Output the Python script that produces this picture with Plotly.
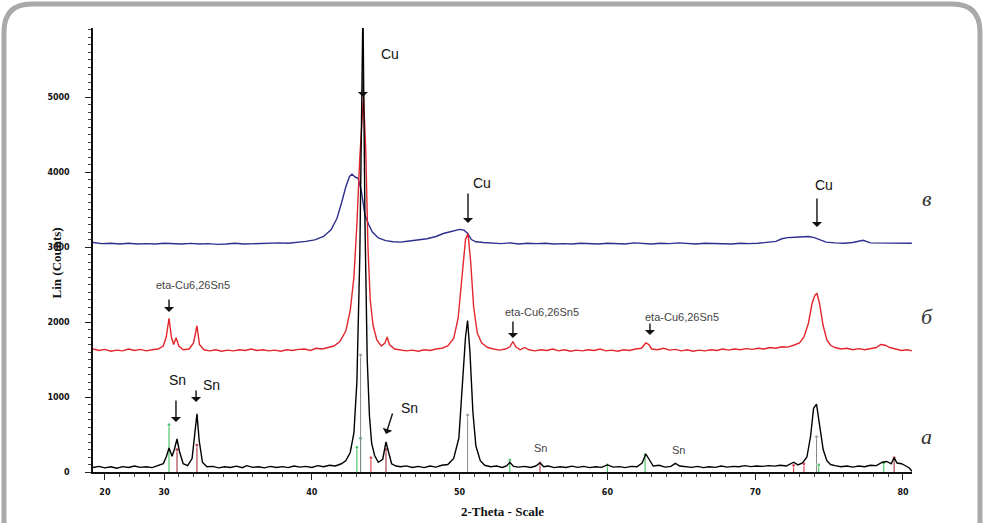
import plotly.graph_objects as go

# --- data -----------------------------------------------------------------
# curve а (black)
a_x = [25.2, 25.6, 26.0, 26.4, 26.8, 27.2, 27.6, 28.0, 28.4, 28.8, 29.2, 29.6, 29.95, 30.15, 30.34,
       30.55, 30.7, 30.88, 31.05, 31.3, 31.6, 31.9, 32.08, 32.23, 32.38, 32.6, 32.9, 33.3, 33.7,
       34.1, 34.5, 34.9, 35.3, 35.6, 36.0, 36.4, 36.8, 37.2, 37.6, 38.0, 38.4, 38.8, 39.2, 39.6,
       40.0, 40.4, 40.8, 41.2, 41.6, 42.0, 42.3, 42.6, 42.85, 43.05, 43.25, 43.46, 43.6, 43.75,
       43.9, 44.05, 44.25, 44.5, 44.8, 45.02, 45.2, 45.4, 45.7, 46.0, 46.4, 46.8, 47.2, 47.6,
       48.0, 48.4, 48.8, 49.2, 49.6, 49.95, 50.2, 50.4, 50.54, 50.7, 50.9, 51.1, 51.4, 51.7,
       52.1, 52.5, 52.9, 53.2, 53.4, 53.65, 54.0, 54.4, 54.8, 55.15, 55.44, 55.7, 56.0, 56.4,
       56.8, 57.2, 57.6, 58.0, 58.4, 58.8, 59.2, 59.6, 60.0, 60.4, 60.8, 61.2, 61.6, 62.0, 62.35,
       62.6, 62.85, 63.1, 63.5, 63.9, 64.3, 64.6, 64.9, 65.3, 65.7, 66.1, 66.5, 66.9, 67.3, 67.7,
       68.1, 68.5, 68.9, 69.3, 69.7, 70.1, 70.5, 70.9, 71.3, 71.7, 72.1, 72.6, 72.9, 73.2, 73.5,
       73.75, 73.95, 74.15, 74.35, 74.6, 74.85, 75.1, 75.4, 75.8, 76.2, 76.6, 77.0, 77.4, 77.8,
       78.2, 78.6, 78.9, 79.2, 79.4, 79.6, 79.9, 80.2, 80.45, 80.6]
a_y = [60, 75, 55, 70, 50, 72, 60, 80, 62, 70, 58, 85, 110, 200, 320,
       210, 300, 440, 270, 110, 85, 180, 520, 775, 420, 130, 70, 75, 55,
       70, 60, 78, 58, 85, 62, 70, 55, 75, 60, 72, 58, 80, 65, 75,
       60, 85, 70, 90, 80, 110, 150, 260, 520, 1200, 2900, 6200, 3300, 1500,
       750, 380, 220, 130, 170, 400, 260, 110, 80, 70, 82, 60, 75, 58,
       80, 65, 90, 100, 180, 450, 1200, 1800, 2020, 1600, 800, 350, 150, 90,
       70, 80, 60, 85, 130, 75, 65, 75, 60, 80, 120, 70, 80, 58,
       70, 60, 78, 62, 75, 58, 70, 62, 95, 65, 72, 58, 75, 70, 120,
       240, 160, 80, 90, 65, 75, 115, 80, 70, 62, 75, 58, 70, 62, 80,
       65, 75, 70, 85, 72, 80, 75, 85, 78, 90, 80, 130, 95, 120, 200,
       480, 850, 905, 620, 300, 150, 100, 85, 70, 80, 65, 80, 70, 90,
       85, 130, 140, 110, 190, 120, 110, 80, 50, 10]

# curve б (red)
b_x = [25.2, 25.6, 26.0, 26.4, 26.8, 27.2, 27.6, 28.0, 28.4, 28.8, 29.2, 29.6, 29.95, 30.15, 30.34,
       30.5, 30.65, 30.82, 31.0, 31.3, 31.7, 32.0, 32.23, 32.4, 32.7, 33.1, 33.5, 33.9, 34.3,
       34.7, 35.1, 35.5, 35.9, 36.3, 36.7, 37.1, 37.5, 37.9, 38.3, 38.7, 39.1, 39.5, 39.9, 40.3,
       40.7, 41.1, 41.5, 41.9, 42.3, 42.6, 42.85, 43.05, 43.25, 43.5, 43.65, 43.8, 43.95, 44.15,
       44.4, 44.7, 44.95, 45.1, 45.25, 45.6, 46.0, 46.4, 46.8, 47.2, 47.6, 48.0, 48.4, 48.8,
       49.2, 49.6, 49.9, 50.15, 50.4, 50.57, 50.75, 50.95, 51.2, 51.5, 51.9, 52.3, 52.7, 53.1,
       53.4, 53.61, 53.8, 54.1, 54.4, 54.7, 55.1, 55.5, 55.9, 56.3, 56.7, 57.1, 57.5, 57.9, 58.3,
       58.7, 59.1, 59.5, 59.9, 60.3, 60.7, 61.1, 61.5, 61.9, 62.3, 62.6, 62.8, 63.0, 63.4, 63.8,
       64.2, 64.6, 65.0, 65.4, 65.8, 66.2, 66.6, 67.0, 67.4, 67.8, 68.2, 68.6, 69.0, 69.4, 69.8,
       70.2, 70.6, 71.0, 71.4, 71.8, 72.2, 72.6, 73.0, 73.3, 73.6, 73.85, 74.05, 74.18, 74.35,
       74.6, 74.85, 75.1, 75.4, 75.8, 76.2, 76.6, 77.0, 77.4, 77.8, 78.2, 78.5, 78.8, 79.1, 79.5,
       79.9, 80.3, 80.6]
b_y = [1640, 1620, 1635, 1610, 1625, 1615, 1640, 1620, 1635, 1615, 1630, 1640, 1680, 1800, 2050,
       1800, 1700, 1790, 1680, 1630, 1640, 1720, 1950, 1700, 1630, 1615, 1630, 1610, 1625,
       1615, 1630, 1620, 1640, 1620, 1630, 1615, 1625, 1610, 1630, 1620, 1635, 1640, 1620, 1650,
       1640, 1660, 1680, 1740, 1880, 2150, 2600, 3300, 4200, 5000, 4300, 3000, 2300, 1950,
       1760, 1680, 1720, 1800, 1700, 1640, 1630, 1615, 1625, 1610, 1630, 1620, 1640, 1650,
       1680, 1780, 2050, 2600, 3100, 3180, 2800, 2200, 1850, 1720, 1660, 1640, 1625, 1640,
       1670, 1740, 1670, 1630, 1660, 1630, 1615, 1630, 1620, 1640, 1615, 1630, 1610, 1625, 1615,
       1630, 1620, 1640, 1615, 1625, 1610, 1630, 1620, 1640, 1650, 1720, 1700, 1640, 1630, 1650,
       1625, 1635, 1615, 1630, 1610, 1625, 1615, 1630, 1620, 1640, 1625, 1640, 1630, 1645, 1635,
       1650, 1640, 1660, 1650, 1670, 1665, 1690, 1720, 1800, 1980, 2250, 2360, 2380, 2250,
       1950, 1760, 1690, 1660, 1640, 1650, 1630, 1645, 1630, 1650, 1660, 1700, 1690, 1660, 1640,
       1620, 1630, 1615]

# curve в (blue)
c_x = [25.2, 25.8, 26.4, 27.0, 27.6, 28.2, 28.8, 29.4, 30.0, 30.6, 31.2, 31.8, 32.4, 33.0, 33.6,
       34.2, 34.8, 35.4, 36.0, 36.6, 37.2, 37.8, 38.4, 39.0, 39.6, 40.2, 40.8, 41.3, 41.7, 42.0,
       42.3, 42.55, 42.72, 42.95, 43.13, 43.35, 43.6, 43.85, 44.1, 44.5, 45.0, 45.5, 46.0, 46.6,
       47.2, 47.8, 48.4, 48.9, 49.3, 49.7, 50.0, 50.3, 50.55, 50.8, 51.1, 51.6, 52.2, 52.8, 53.4,
       54.0, 54.6, 55.2, 55.8, 56.4, 57.0, 57.6, 58.2, 58.8, 59.4, 60.0, 60.6, 61.2, 61.8, 62.4,
       63.0, 63.6, 64.2, 64.8, 65.4, 66.0, 66.6, 67.2, 67.8, 68.4, 69.0, 69.6, 70.2, 70.8, 71.4,
       71.8, 72.2, 72.7, 73.2, 73.6, 74.0, 74.4, 74.8, 75.4, 76.0, 76.6, 77.0, 77.3, 77.8, 78.4,
       79.0, 79.6, 80.2, 80.6]
c_y = [3060, 3045, 3050, 3040, 3050, 3040, 3045, 3040, 3050, 3045, 3040, 3048, 3040, 3045, 3035,
       3040, 3050, 3040, 3045, 3050, 3045, 3055, 3050, 3060, 3075, 3095, 3140, 3230, 3380, 3580,
       3800, 3940, 3970, 3930, 3920, 3750, 3420, 3300, 3200, 3120, 3085, 3070, 3065, 3080,
       3090, 3110, 3140, 3180, 3200, 3220, 3235, 3225, 3180, 3100, 3070, 3060, 3050, 3045, 3055,
       3040, 3050, 3045, 3050, 3040, 3045, 3040, 3050, 3045, 3040, 3050, 3045, 3040, 3055, 3045,
       3040, 3050, 3045, 3055, 3045, 3040, 3050, 3045, 3045, 3040, 3050, 3045, 3050, 3060, 3075,
       3110, 3125, 3130, 3135, 3140, 3125, 3090, 3065, 3055, 3050, 3060, 3075, 3090, 3055, 3055,
       3045, 3050, 3045, 3050]

# reference sticks of the phase database under curve а
stick_x = [30.34, 30.88, 32.23, 43.05, 43.3, 43.3, 44.0, 45.02, 50.54, 53.4, 55.44, 60.0,
           62.55, 72.6, 73.3, 74.15, 74.3, 78.7, 79.4]
stick_h = [630, 300, 360, 330, 450, 1560, 190, 300, 760, 160, 120, 95,
           230, 90, 110, 470, 95, 120, 190]
stick_c = ["#2db84d", "#9c1f2c", "#9c1f2c", "#2db84d", "#1a8f8f", "#888888", "#d8283a",
           "#9c1f2c", "#888888", "#2db84d", "#9c1f2c", "#2db84d", "#2db84d", "#d8283a",
           "#d8283a", "#888888", "#2db84d", "#2db84d", "#9c1f2c"]

x_ticks = [26, 30, 40, 50, 60, 70, 80]
x_labels = ["20", "30", "40", "50", "60", "70", "80"]
y_ticks = [0, 1000, 2000, 3000, 4000, 5000]

fig = go.Figure()

for sx, sh, sc in zip(stick_x, stick_h, stick_c):
    fig.add_trace(go.Scatter(
        x=[sx, sx], y=[0, sh], mode="lines+markers",
        line=dict(color=sc, width=1),
        marker=dict(size=[0, 4], color=sc),
        showlegend=False, hoverinfo="skip",
    ))

fig.add_trace(go.Scatter(x=c_x, y=c_y, mode="lines", line=dict(color="#2f2f8f", width=1.4),
                         name="в", showlegend=False))
fig.add_trace(go.Scatter(x=b_x, y=b_y, mode="lines", line=dict(color="#e3262d", width=1.4),
                         name="б", showlegend=False))
fig.add_trace(go.Scatter(x=a_x, y=a_y, mode="lines", line=dict(color="#000000", width=1.4),
                         name="а", showlegend=False))

# labels with arrows: (text, text x, text y, arrow tip x, tip y, ax, ay, size, colour)
notes = [
    ("Cu", 45.29, 5573, 43.46, 5000, 0, -31, 14, "#111111"),
    ("Cu", 51.52, 3853, 50.57, 3320, 0, -31, 14, "#111111"),
    ("Cu", 74.65, 3827, 74.18, 3267, 0, -30, 14, "#111111"),
    ("eta-Cu6,26Sn5", 31.96, 2493, 30.34, 2133, 0, -14, 11, "#444444"),
    ("eta-Cu6,26Sn5", 55.58, 2133, 53.61, 1787, 0, -18, 11, "#444444"),
    ("eta-Cu6,26Sn5", 65.05, 2067, 62.88, 1827, 0, -13, 11, "#444444"),
    ("Sn", 30.88, 1227, 30.81, 667, 0, -23, 14, "#111111"),
    ("Sn", 33.18, 1160, 32.17, 933, 0, -13, 14, "#111111"),
    ("Sn", 46.58, 853, 45.02, 507, 7, -22, 14, "#111111"),
]
for txt, tx, ty, px, py, ax, ay, fs, col in notes:
    fig.add_annotation(x=tx, y=ty, text=txt, showarrow=False,
                       font=dict(family="Liberation Sans, Arial", size=fs, color=col))
    fig.add_annotation(x=px, y=py, text="", showarrow=True, ax=ax, ay=ay,
                       arrowhead=1, arrowsize=1.2, arrowwidth=1.4, arrowcolor="#111111",
                       standoff=0, startstandoff=0)

for tx, ty in [(55.5, 320), (64.84, 293)]:
    fig.add_annotation(x=tx, y=ty, text="Sn", showarrow=False,
                       font=dict(family="Liberation Sans, Arial", size=11, color="#444444"))

# italic curve letters, right of the plot area
for txt, ty in [("в", 3653), ("б", 2067), ("а", 467)]:
    fig.add_annotation(xref="paper", x=1.018, y=ty, text=f"<i>{txt}</i>", showarrow=False,
                       xanchor="center", yanchor="middle",
                       font=dict(family="Liberation Serif, Times New Roman", size=22,
                                 color="#333333"))

# axis titles
fig.add_annotation(xref="paper", yref="paper", x=-0.045, y=0.47, text="<b>Lin (Counts)</b>",
                   textangle=-90, showarrow=False, xanchor="center", yanchor="middle",
                   font=dict(family="Liberation Serif, Times New Roman", size=13, color="#111111"))
fig.add_annotation(xref="paper", yref="paper", x=0.5, y=-0.09, text="<b>2-Theta - Scale</b>",
                   showarrow=False, xanchor="center", yanchor="middle",
                   font=dict(family="Liberation Serif, Times New Roman", size=13, color="#111111"))

# grey rounded frame around the chart (open at the bottom)
L, R, T, B = -0.1087, 1.0830, 1.0541, -0.14
rx, ry = 0.034, 0.063
fig.add_shape(type="path", xref="paper", yref="paper",
              path=(f"M {L},{B} L {L},{T - ry} Q {L},{T} {L + rx},{T} "
                    f"L {R - rx},{T} Q {R},{T} {R},{T - ry} L {R},{B}"),
              line=dict(color="#a9a9a9", width=5))

fig.update_layout(
    width=985, height=523,
    margin=dict(l=93, r=73, t=28, b=51),
    plot_bgcolor="white", paper_bgcolor="white",
    showlegend=False,
    xaxis=dict(
        range=[25.196, 80.61], tickmode="array", tickvals=x_ticks, ticktext=x_labels,
        ticks="outside", ticklen=6, tickwidth=1, tickcolor="#222222",
        showline=True, linecolor="#111111", linewidth=1.5,
        showgrid=False, zeroline=False,
        minor=dict(tickmode="linear", tick0=0, dtick=1, ticklen=3, ticks="outside",
                   tickcolor="#444444"),
        tickfont=dict(family="DejaVu Sans", size=8, color="#111111", weight="bold"),
        ticklabelstandoff=6,
    ),
    yaxis=dict(
        range=[0, 5920], tickmode="array", tickvals=y_ticks,
        ticks="outside", ticklen=6, tickwidth=1, tickcolor="#222222",
        showline=True, linecolor="#111111", linewidth=1.5,
        showgrid=False, zeroline=False,
        minor=dict(tickmode="linear", tick0=0, dtick=100, ticklen=3, ticks="outside",
                   tickcolor="#444444"),
        tickfont=dict(family="DejaVu Sans", size=8, color="#111111", weight="bold"),
        ticklabelstandoff=14,
    ),
)

# page body has a default 8px margin; drop it so the 985x523 figure fills the window
fig.write_html("out.html", config={"displayModeBar": False},
               post_script="document.body.style.margin='0px';")
